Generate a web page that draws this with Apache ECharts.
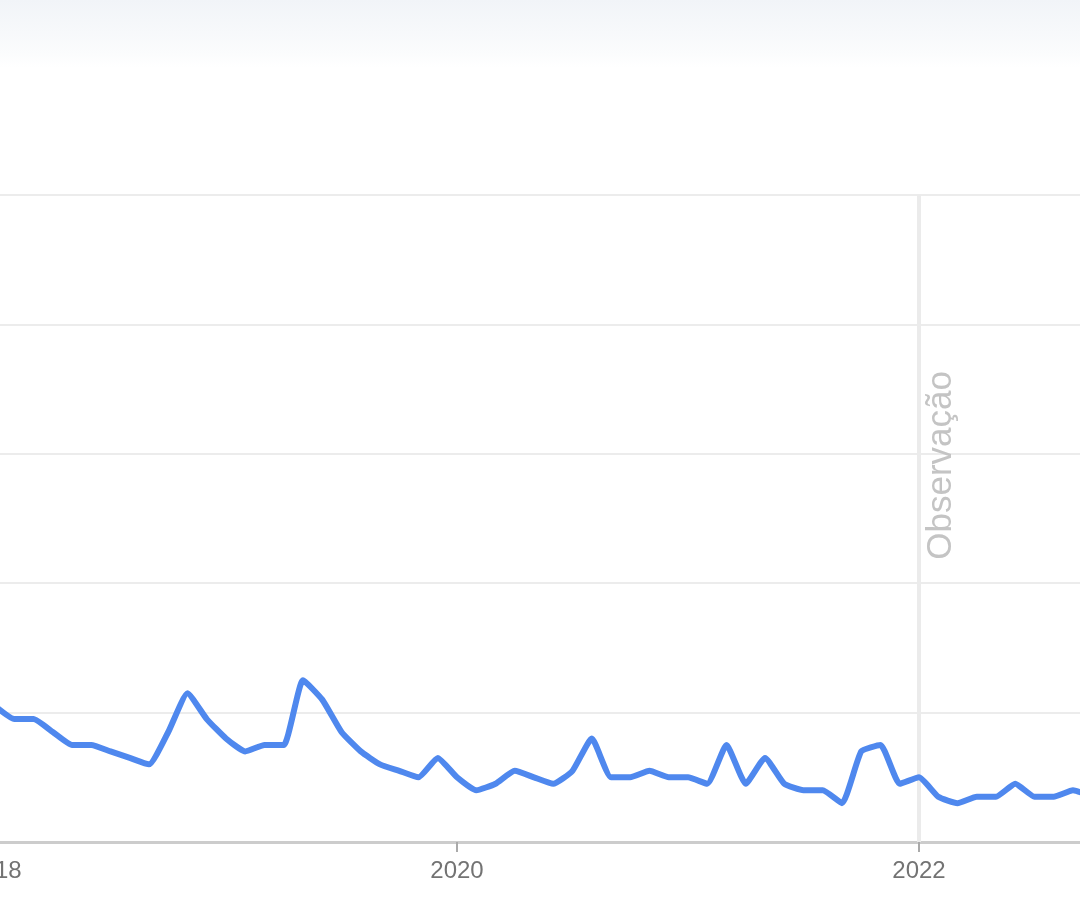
<!DOCTYPE html>
<html>
<head>
<meta charset="utf-8">
<script src="https://cdn.jsdelivr.net/npm/echarts@6/dist/echarts.min.js"></script>
<style>html,body{margin:0;padding:0;background:#fff}#c{width:1080px;height:900px}</style>
</head>
<body>
<div id="c"></div>
<script>
// Monthly categories (Jan 2018 .. Oct 2022)
const months = [
  '2018-01','2018-02','2018-03','2018-04','2018-05','2018-06','2018-07','2018-08','2018-09','2018-10','2018-11','2018-12',
  '2019-01','2019-02','2019-03','2019-04','2019-05','2019-06','2019-07','2019-08','2019-09','2019-10','2019-11','2019-12',
  '2020-01','2020-02','2020-03','2020-04','2020-05','2020-06','2020-07','2020-08','2020-09','2020-10','2020-11','2020-12',
  '2021-01','2021-02','2021-03','2021-04','2021-05','2021-06','2021-07','2021-08','2021-09','2021-10','2021-11','2021-12',
  '2022-01','2022-02','2022-03','2022-04','2022-05','2022-06','2022-07','2022-08','2022-09','2022-10'
];
// Search interest (0-100)
const interest = [
  21,19,19,17,15,15,14,13,12,17,23,19,
  16,14,15,15,25,22,17,14,12,11,10,13,
  10,8,9,11,10,9,11,16,10,10,11,10,
  10,9,15,9,13,9,8,8,6,14,15,9,
  10,7,6,7,7,9,7,7,8,7
];
// Year tick labels shown on the x axis
const yearTicks = {'2018-01':'2018','2020-01':'2020','2022-01':'2022'};
const noteMonth = '2022-01';
const noteText = 'Observação';
const yMin = 0, yMax = 100, yStep = 20;

const chart = echarts.init(document.getElementById('c'), null, {renderer:'canvas'});
chart.setOption({
  animation:false,
  backgroundColor: new echarts.graphic.LinearGradient(0,0,0,1,[
    {offset:0,color:'#f1f4f8'},
    {offset:0.06,color:'#fbfcfd'},
    {offset:0.075,color:'#ffffff'},
    {offset:1,color:'#ffffff'}
  ]),
  grid:{left:-5, right:-12.25, top:195, bottom:58, containLabel:false, outerBoundsMode:'none'},
  xAxis:{
    type:'category',
    data:months,
    boundaryGap:false,
    axisLine:{show:true,lineStyle:{color:'#cccccc',width:3}},
    axisTick:{show:true,length:10,lineStyle:{color:'#aaaaaa',width:2},
      interval:(i,v)=> v in yearTicks && v!=='2018-01'},
    axisLabel:{show:true,margin:17,fontSize:24,color:'#737373',fontFamily:'Liberation Sans, Arial, sans-serif',
      interval:(i,v)=> v in yearTicks,
      formatter:(v)=> yearTicks[v]||''},
    splitLine:{show:false}
  },
  yAxis:{
    type:'value', min:yMin, max:yMax, interval:yStep,
    axisLine:{show:false}, axisTick:{show:false}, axisLabel:{show:false},
    splitLine:{show:true,lineStyle:{color:'#ececec',width:2}}
  },
  series:[{
    type:'line',
    data:interest,
    symbol:'none',
    smooth:0.15,
    lineStyle:{color:'#4f88ee',width:6,join:'round',cap:'round'},
    z:3,
    markLine:{
      silent:true,
      symbol:['none','none'],
      lineStyle:{color:'#ebebeb',width:4,type:'solid'},
      label:{show:true,formatter:noteText,position:'insideEndBottom',
        fontSize:35,color:'#c4c4c4',fontFamily:'Liberation Sans, Arial, sans-serif',distance:[176,5]},
      data:[{xAxis:noteMonth}],
      z:1
    }
  }]
});
</script>
</body>
</html>
